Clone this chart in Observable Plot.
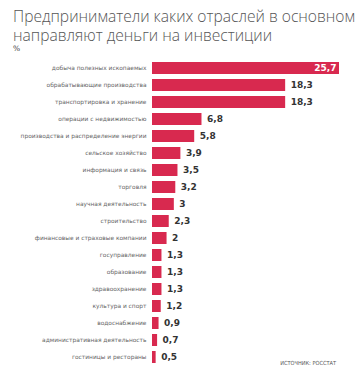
<!DOCTYPE html>
<html>
<head>
<meta charset="utf-8">
<script src="https://cdn.jsdelivr.net/npm/d3@7"></script>
<script src="https://cdn.jsdelivr.net/npm/@observablehq/plot@0.6"></script>
<style>
  html, body { margin: 0; padding: 0; background: #fff; }
  #wrap { position: relative; width: 356px; height: 380px; overflow: hidden; }
  #title { position: absolute; left: 13px; top: 7px; white-space: nowrap; font-family: "Open Sans", sans-serif; font-weight: 300; font-size: 15.6px; line-height: 19px; color: #555; }
  #unit { position: absolute; left: 13px; top: 45px; font-family: "DejaVu Sans", sans-serif; font-size: 7.5px; line-height: 8px; color: #444; }
  #source { position: absolute; left: 0; width: 336px; text-align: right; top: 360px; font-family: "DejaVu Sans Condensed", "DejaVu Sans", sans-serif; font-size: 5.6px; color: #555; }
  #chart { position: absolute; left: 0; top: 0; }
</style>
</head>
<body>
<div id="wrap">
  <div id="chart"></div>
  <div id="title">Предприниматели каких отраслей в основном<br>направляют деньги на инвестиции</div>
  <div id="unit">%</div>
  <div id="source">ИСТОЧНИК: РОССТАТ</div>
</div>
<script>
const categories = [
  "добыча полезных ископаемых",
  "обрабатывающие производства",
  "транспортировка и хранение",
  "операции с недвижимостью",
  "производства и распределение энергии",
  "сельское хозяйство",
  "информация и связь",
  "торговля",
  "научная деятельность",
  "строительство",
  "финансовые и страховые компании",
  "госуправление",
  "образование",
  "здравоохранение",
  "культура и спорт",
  "водоснабжение",
  "административная деятельность",
  "гостиницы и рестораны"
];
const values = [25.7, 18.3, 18.3, 6.8, 5.8, 3.9, 3.5, 3.2, 3, 2.3, 2, 1.3, 1.3, 1.3, 1.2, 0.9, 0.7, 0.5];
const valueLabels = ["25,7", "18,3", "18,3", "6,8", "5,8", "3,9", "3,5", "3,2", "3", "2,3", "2", "1,3", "1,3", "1,3", "1,2", "0,9", "0,7", "0,5"];

const data = categories.map((c, i) => ({category: c, value: values[i], label: valueLabels[i]}));
const inside = data.slice(0, 1);
const outside = data.slice(1);

const chart = Plot.plot({
  width: 356,
  height: 380,
  marginLeft: 152,
  marginRight: 17,
  marginTop: 52.7,
  marginBottom: 7.5,
  x: {domain: [0, 25.7], axis: null},
  y: {domain: categories, paddingInner: 0.32, paddingOuter: 0.16, axis: null},
  style: {background: "transparent"},
  marks: [
    Plot.barX(data, {y: "category", x: "value", fill: "#d8294f"}),
    Plot.text(data, {y: "category", x: 0, text: "category", textAnchor: "end", dx: -6,
      fontSize: 5.9, fill: "#666", fontFamily: "DejaVu Sans"}),
    Plot.text(outside, {y: "category", x: "value", text: "label", textAnchor: "start", dx: 5,
      fontSize: 9, fontWeight: "bold", fill: "#333", fontFamily: "DejaVu Sans"}),
    Plot.text(inside, {y: "category", x: "value", text: "label", textAnchor: "end", dx: -3,
      fontSize: 9, fontWeight: "bold", fill: "#fff", fontFamily: "DejaVu Sans"})
  ]
});
document.getElementById("chart").appendChild(chart);
</script>
</body>
</html>
